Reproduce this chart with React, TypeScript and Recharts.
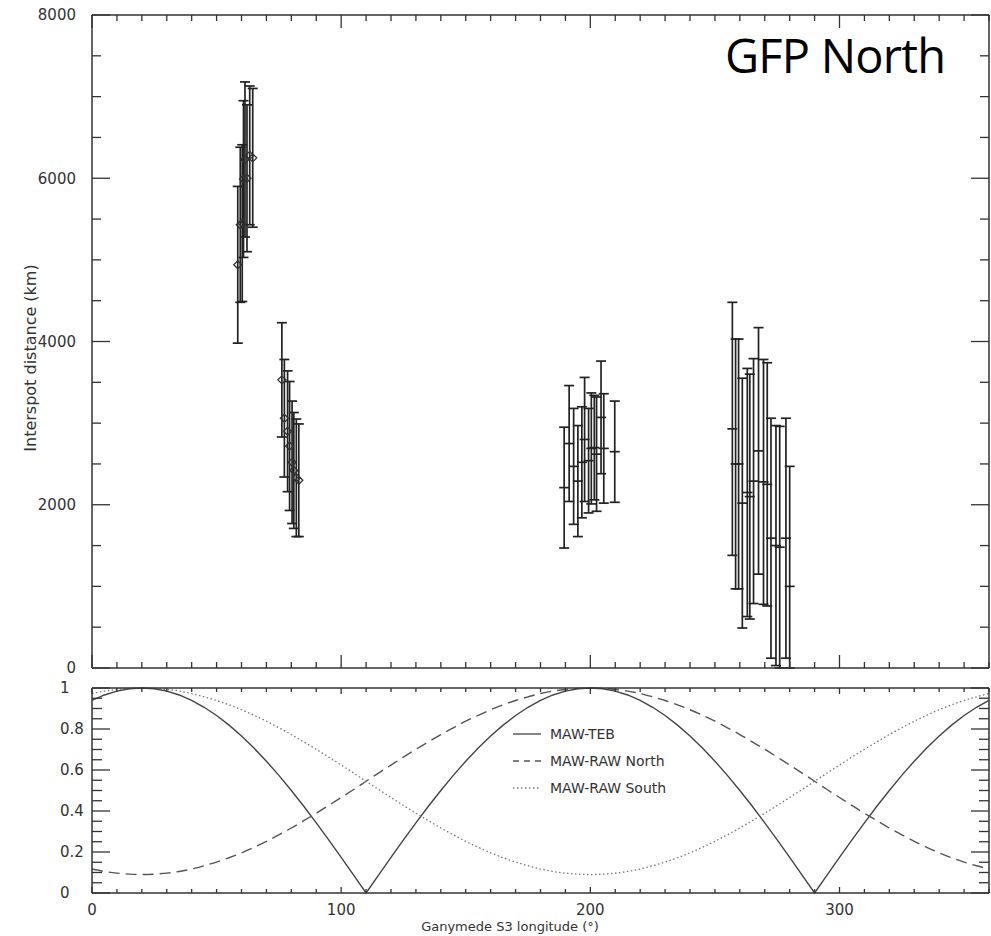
import React from 'react';
import { ScatterChart, Scatter, XAxis, YAxis, ErrorBar, LineChart, Line } from 'recharts';

// --- interspot distance measurements (longitude deg, distance km, 1-sigma error km)
const g1Lon = [58.5, 59.5, 60.3, 60.8, 61.4, 62.2, 63.3, 64.5];
const g1Dist = [4940, 5430, 5450, 5990, 6230, 6000, 6280, 6250];
const g1Err = [960, 950, 960, 960, 950, 900, 850, 850];

const g2Lon = [76.2, 77.2, 78.5, 79.3, 80.3, 81.0, 82.0, 83.0];
const g2Dist = [3530, 3060, 2900, 2720, 2520, 2420, 2330, 2300];
const g2Err = [700, 720, 740, 790, 750, 710, 720, 690];

const g3Lon = [189.5, 191.5, 193.3, 195.0, 196.6, 197.7, 199.3, 200.4, 201.6, 202.5, 204.3, 205.4, 209.8];
const g3Dist = [2210, 2750, 2470, 2290, 2520, 2800, 2540, 2690, 2700, 2620, 3070, 2690, 2650];
const g3Err = [740, 710, 710, 680, 680, 760, 640, 680, 640, 700, 690, 670, 620];

const g4Lon = [257, 258.3, 259.5, 261, 263, 264, 265.5, 267.5, 269.5, 271, 272.5, 274.5, 276, 278.5, 280];
const g4Dist = [2930, 2500, 2500, 2020, 2150, 2100, 2290, 2660, 2280, 2250, 1590, 1500, 1480, 1590, 1000];
const g4Err = [1550, 1530, 1530, 1530, 1520, 1500, 1500, 1510, 1500, 1490, 1470, 1470, 1480, 1470, 1470];

// --- model curves, sampled every 5 deg
const curveLon = [
  0, 5, 10, 15, 20, 25, 30, 35, 40, 45, 50, 55, 60, 65, 70, 75, 80, 85, 90, 95, 100, 105, 110, 115, 120,
  125, 130, 135, 140, 145, 150, 155, 160, 165, 170, 175, 180, 185, 190, 195, 200, 205, 210, 215, 220, 225,
  230, 235, 240, 245, 250, 255, 260, 265, 270, 275, 280, 285, 290, 295, 300, 305, 310, 315, 320, 325, 330,
  335, 340, 345, 350, 355, 360,
];
const mawTeb = [
  0.94, 0.966, 0.985, 0.996, 1, 0.996, 0.985, 0.966, 0.94, 0.906, 0.866, 0.819, 0.766, 0.707, 0.643, 0.574,
  0.5, 0.423, 0.342, 0.259, 0.174, 0.087, 0, 0.087, 0.174, 0.259, 0.342, 0.423, 0.5, 0.574, 0.643, 0.707,
  0.766, 0.819, 0.866, 0.906, 0.94, 0.966, 0.985, 0.996, 1, 0.996, 0.985, 0.966, 0.94, 0.906, 0.866, 0.819,
  0.766, 0.707, 0.643, 0.574, 0.5, 0.423, 0.342, 0.259, 0.174, 0.087, 0, 0.087, 0.174, 0.259, 0.342, 0.423,
  0.5, 0.574, 0.643, 0.707, 0.766, 0.819, 0.866, 0.906, 0.94,
];
const mawRawNorth = [
  0.117, 0.105, 0.097, 0.092, 0.09, 0.092, 0.097, 0.105, 0.117, 0.133, 0.151, 0.172, 0.196, 0.223, 0.252,
  0.284, 0.317, 0.353, 0.389, 0.427, 0.466, 0.505, 0.545, 0.585, 0.624, 0.663, 0.701, 0.737, 0.773, 0.806,
  0.838, 0.867, 0.894, 0.918, 0.939, 0.957, 0.973, 0.985, 0.993, 0.998, 1, 0.998, 0.993, 0.985, 0.973, 0.957,
  0.939, 0.918, 0.894, 0.867, 0.838, 0.806, 0.773, 0.737, 0.701, 0.663, 0.624, 0.585, 0.545, 0.505, 0.466,
  0.427, 0.389, 0.353, 0.317, 0.284, 0.252, 0.223, 0.196, 0.172, 0.151, 0.133, 0.117,
];
const mawRawSouth = [
  0.973, 0.985, 0.993, 0.998, 1, 0.998, 0.993, 0.985, 0.973, 0.957, 0.939, 0.918, 0.894, 0.867, 0.838, 0.806,
  0.773, 0.737, 0.701, 0.663, 0.624, 0.585, 0.545, 0.505, 0.466, 0.427, 0.389, 0.353, 0.317, 0.284, 0.252,
  0.223, 0.196, 0.172, 0.151, 0.133, 0.117, 0.105, 0.097, 0.092, 0.09, 0.092, 0.097, 0.105, 0.117, 0.133,
  0.151, 0.172, 0.196, 0.223, 0.252, 0.284, 0.317, 0.353, 0.389, 0.427, 0.466, 0.505, 0.545, 0.585, 0.624,
  0.663, 0.701, 0.737, 0.773, 0.806, 0.838, 0.867, 0.894, 0.918, 0.939, 0.957, 0.973,
];

// --- axes
const lonTicks = [
  0, 10, 20, 30, 40, 50, 60, 70, 80, 90, 100, 110, 120, 130, 140, 150, 160, 170, 180, 190, 200, 210, 220,
  230, 240, 250, 260, 270, 280, 290, 300, 310, 320, 330, 340, 350, 360,
];
const lonLabels = [0, 100, 200, 300];
const distTicks = [
  0, 500, 1000, 1500, 2000, 2500, 3000, 3500, 4000, 4500, 5000, 5500, 6000, 6500, 7000, 7500, 8000,
];
const distLabels = [0, 2000, 4000, 6000, 8000];
const normTicks = [
  0, 0.05, 0.1, 0.15, 0.2, 0.25, 0.3, 0.35, 0.4, 0.45, 0.5, 0.55, 0.6, 0.65, 0.7, 0.75, 0.8, 0.85, 0.9, 0.95, 1,
];
const normLabels = [0, 0.2, 0.4, 0.6, 0.8, 1];

const INK = '#333';
const FONT = 'DejaVu Sans';

// error bar: lower arm stops at the axis floor
const toRows = (lon: number[], dist: number[], err: number[]) =>
  lon.map((l, i) => ({ lon: l, dist: dist[i], err: [Math.min(err[i], dist[i]), err[i]] }));

const diamondPts = [...toRows(g1Lon, g1Dist, g1Err), ...toRows(g2Lon, g2Dist, g2Err)];
const tickPts = [...toRows(g3Lon, g3Dist, g3Err), ...toRows(g4Lon, g4Dist, g4Err)];

// anchor points on the top edge of the upper frame, one per longitude tick
const topEdgePts = lonTicks.map((v) => ({ lon: v, dist: 8000 }));

const curveData = curveLon.map((l, i) => ({
  lon: l,
  teb: mawTeb[i],
  north: mawRawNorth[i],
  south: mawRawSouth[i],
  edge: 1,
}));

// bottom axis: inward ticks, optional labels below
const lonTick = (majorLen: number, minorLen: number, labelDy: number | null) => (p: any) => {
  const v = p.payload.value;
  const major = lonLabels.includes(v);
  const len = major ? majorLen : minorLen;
  return (
    <g>
      <line x1={p.x} y1={p.y} x2={p.x} y2={p.y - len} stroke={INK} strokeWidth={1.3} />
      {labelDy !== null && major ? (
        <text x={p.x} y={p.y + labelDy} dy="0.36em" textAnchor="middle" fontFamily={FONT} fontSize={15} fill={INK}>
          {String(v)}
        </text>
      ) : null}
    </g>
  );
};

// vertical axes: inward ticks, labels outside on the left one
const yTick = (side: 'left' | 'right', majors: number[], majorLen: number, minorLen: number, anchor?: 'end' | 'start', labelX?: number) =>
  (p: any) => {
    const v = p.payload.value;
    const major = majors.includes(v);
    const len = major ? majorLen : minorLen;
    const x2 = side === 'left' ? p.x + len : p.x - len;
    return (
      <g>
        <line x1={p.x} y1={p.y} x2={x2} y2={p.y} stroke={INK} strokeWidth={1.3} />
        {anchor && major ? (
          <text x={labelX} y={p.y} dy="0.36em" textAnchor={anchor} fontFamily={FONT} fontSize={15} fill={INK}>
            {String(v)}
          </text>
        ) : null}
      </g>
    );
  };

// tick hanging down from the top frame edge
const TopEdgeTick = (p: any) => {
  const major = lonLabels.includes(p.payload?.lon);
  const len = major ? 13 : 6;
  return <line x1={p.cx} y1={p.cy} x2={p.cx} y2={p.cy + len} stroke={INK} strokeWidth={1.3} />;
};

const renderBottomEdgeTick = (p: any) => {
  const lon = p.payload?.lon;
  const key = `edge-${lon}`;
  if (lon % 10 !== 0 || p.cx == null || p.cy == null) return <g key={key} />;
  const len = lonLabels.includes(lon) ? 6 : 4;
  return <line key={key} x1={p.cx} y1={p.cy} x2={p.cx} y2={p.cy + len} stroke={INK} strokeWidth={1.3} />;
};

const Diamond = (p: any) => {
  const { cx, cy } = p;
  const r = 4;
  return (
    <polygon
      points={`${cx},${cy - r} ${cx + r},${cy} ${cx},${cy + r} ${cx - r},${cy}`}
      fill="none"
      stroke={INK}
      strokeWidth={1.3}
    />
  );
};

const Dash = (p: any) => (
  <line x1={p.cx - 5} y1={p.cy} x2={p.cx + 5} y2={p.cy} stroke="#222" strokeWidth={1.7} />
);

const Nothing = () => <g />;

const axisLine = { stroke: INK, strokeWidth: 1.5 };

export default function App() {
  return (
    <div style={{ position: 'absolute', left: 0, top: 0, width: 991, height: 936, background: '#fff' }}>
      <div style={{ position: 'absolute', left: 0, top: 0 }}>
        <ScatterChart width={991} height={680} margin={{ top: 14, right: 1, bottom: 0, left: 0 }}>
          <XAxis
            dataKey="lon" type="number" domain={[0, 360]} ticks={lonTicks} interval={0}
            height={12} tickSize={0} tickMargin={0} tickLine={false}
            axisLine={axisLine} tick={lonTick(13, 6, null)}
          />
          <XAxis
            xAxisId="top" orientation="top" dataKey="lon" type="number" domain={[0, 360]}
            height={1} tick={false} tickLine={false} axisLine={axisLine}
          />
          <YAxis
            dataKey="dist" type="number" domain={[0, 8000]} ticks={distTicks} interval={0}
            width={92} tickSize={0} tickMargin={0} tickLine={false}
            axisLine={axisLine} tick={yTick('left', distLabels, 18, 9, 'end', 76)}
          />
          <YAxis
            yAxisId="right" orientation="right" dataKey="dist" type="number" domain={[0, 8000]}
            ticks={distTicks} interval={0} width={1} tickSize={0} tickMargin={0}
            tickLine={false} axisLine={axisLine} tick={yTick('right', distLabels, 18, 9)}
          />
          <Scatter data={topEdgePts} shape={TopEdgeTick} isAnimationActive={false} />
          <Scatter data={diamondPts} shape={Diamond} isAnimationActive={false}>
            <ErrorBar dataKey="err" direction="y" width={5} stroke="#222" strokeWidth={1.7} isAnimationActive={false} />
          </Scatter>
          <Scatter data={tickPts} shape={Dash} isAnimationActive={false}>
            <ErrorBar dataKey="err" direction="y" width={5} stroke="#222" strokeWidth={1.7} isAnimationActive={false} />
          </Scatter>
          {/* binds the mirrored frame axes */}
          <Scatter data={tickPts} xAxisId="top" yAxisId="right" shape={Nothing} isAnimationActive={false} />
        </ScatterChart>
      </div>

      <div style={{ position: 'absolute', left: 0, top: 680 }}>
        <LineChart width={991} height={256} data={curveData} margin={{ top: 7, right: 1, bottom: 0, left: 0 }}>
          <XAxis
            dataKey="lon" type="number" domain={[0, 360]} ticks={lonTicks} interval={0}
            height={43} tickSize={0} tickMargin={0} tickLine={false}
            axisLine={axisLine} tick={lonTick(6, 4, 17)}
          />
          <XAxis
            xAxisId="top" orientation="top" dataKey="lon" type="number" domain={[0, 360]}
            height={1} tick={false} tickLine={false} axisLine={axisLine}
          />
          <YAxis
            type="number" domain={[0, 1]} ticks={normTicks} interval={0} width={92}
            tickSize={0} tickMargin={0} tickLine={false}
            axisLine={axisLine} tick={yTick('left', normLabels, 18, 10, 'start', 60)}
          />
          <YAxis
            yAxisId="right" orientation="right" type="number" domain={[0, 1]} ticks={normTicks}
            interval={0} width={1} tickSize={0} tickMargin={0} tickLine={false}
            axisLine={axisLine} tick={yTick('right', normLabels, 18, 10)}
          />
          <Line dataKey="teb" type="linear" dot={false} stroke="#444" strokeWidth={1.4} isAnimationActive={false} />
          <Line dataKey="north" type="monotone" dot={false} stroke="#555" strokeWidth={1.4} strokeDasharray="11 6" isAnimationActive={false} />
          <Line dataKey="south" type="monotone" dot={false} stroke="#777" strokeWidth={1.3} strokeDasharray="1.5 2.5" isAnimationActive={false} />
          {/* top-edge ticks of the lower frame */}
          <Line dataKey="edge" stroke="none" dot={renderBottomEdgeTick} activeDot={false} isAnimationActive={false} />
          {/* binds the mirrored frame axes */}
          <Line dataKey="teb" xAxisId="top" yAxisId="right" dot={false} stroke="none" strokeWidth={0} isAnimationActive={false} />
        </LineChart>
      </div>

      {/* axis titles */}
      <div
        style={{
          position: 'absolute', left: 30, top: 358, transform: 'translate(-50%, -50%) rotate(-90deg)',
          whiteSpace: 'nowrap', fontFamily: FONT, fontSize: 16, color: INK,
        }}
      >
        Interspot distance (km)
      </div>
      <div
        style={{
          position: 'absolute', left: 510, top: 926, transform: 'translate(-50%, -50%)',
          whiteSpace: 'nowrap', fontFamily: FONT, fontSize: 13, color: INK,
        }}
      >
        Ganymede S3 longitude (°)
      </div>

      <div
        style={{
          position: 'absolute', left: 725, top: 32, fontFamily: 'Open Sans', fontSize: 47,
          letterSpacing: -0.8, lineHeight: 1, color: '#000', whiteSpace: 'nowrap',
        }}
      >
        GFP North
      </div>

      {/* legend */}
      <div style={{ position: 'absolute', left: 513, top: 720, fontFamily: FONT, fontSize: 14, color: INK }}>
        {[
          { name: 'MAW-TEB', dash: undefined, col: '#444' },
          { name: 'MAW-RAW North', dash: '6 5', col: '#555' },
          { name: 'MAW-RAW South', dash: '1.5 2.5', col: '#777' },
        ].map((it) => (
          <div key={it.name} style={{ display: 'flex', alignItems: 'center', height: 27 }}>
            <svg width={28} height={10} style={{ marginRight: 9 }}>
              <line x1={0} y1={5} x2={28} y2={5} stroke={it.col} strokeWidth={1.3} strokeDasharray={it.dash} />
            </svg>
            <span>{it.name}</span>
          </div>
        ))}
      </div>
    </div>
  );
}
